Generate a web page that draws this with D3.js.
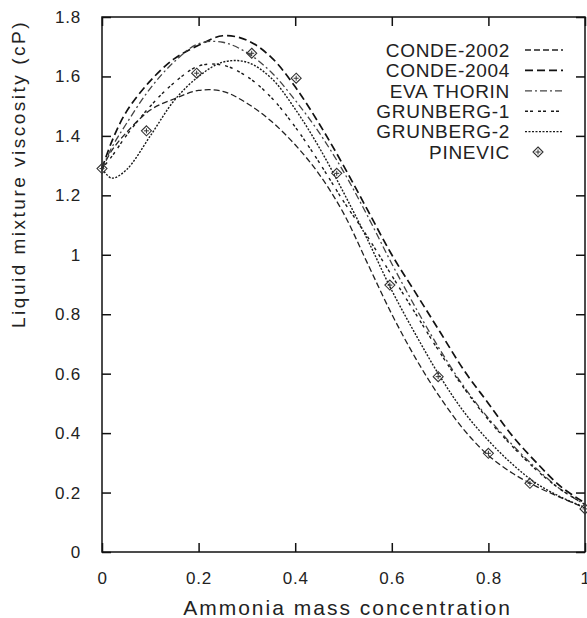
<!DOCTYPE html>
<html>
<head>
<meta charset="utf-8">
<script src="https://cdn.jsdelivr.net/npm/d3@7"></script>
<style>
  body { margin: 0; background: #fff; }
  text { font-family: 'Liberation Sans', Arial, sans-serif; fill: #222; }
</style>
</head>
<body>
<div id="chart"></div>
<script>
var conc = [0, 0.02, 0.05, 0.1, 0.15, 0.2, 0.25, 0.3, 0.35, 0.4, 0.45, 0.5, 0.55, 0.6, 0.65, 0.7, 0.75, 0.8, 0.85, 0.9, 0.95, 1]

var conde2002 = [1.29, 1.35, 1.41, 1.487, 1.525, 1.553, 1.55, 1.51, 1.45, 1.37, 1.27, 1.14, 0.97, 0.8, 0.65, 0.52, 0.41, 0.325, 0.265, 0.22, 0.183, 0.148]
var conde2004 = [1.29, 1.38, 1.48, 1.585, 1.66, 1.705, 1.737, 1.722, 1.665, 1.565, 1.44, 1.3, 1.15, 1.0, 0.87, 0.74, 0.61, 0.5, 0.39, 0.3, 0.22, 0.165]
var evaThorin = [1.29, 1.36, 1.44, 1.56, 1.65, 1.71, 1.715, 1.68, 1.615, 1.52, 1.41, 1.28, 1.13, 0.97, 0.82, 0.68, 0.555, 0.45, 0.36, 0.28, 0.21, 0.16]
var grunberg1 = [1.29, 1.33, 1.4, 1.5, 1.58, 1.635, 1.638, 1.6, 1.53, 1.43, 1.31, 1.18, 1.06, 0.93, 0.8, 0.67, 0.55, 0.445, 0.355, 0.275, 0.21, 0.16]
var grunberg2 = [1.29, 1.258, 1.285, 1.4, 1.52, 1.6, 1.648, 1.648, 1.595, 1.49, 1.36, 1.21, 1.05, 0.88, 0.73, 0.59, 0.47, 0.375, 0.295, 0.23, 0.185, 0.15]

var pinevicX = [0, 0.092, 0.196, 0.31, 0.402, 0.486, 0.596, 0.696, 0.8, 0.886, 1]
var pinevicY = [1.29, 1.417, 1.611, 1.678, 1.594, 1.274, 0.898, 0.59, 0.332, 0.231, 0.145]

var seriesNames = ['CONDE-2002', 'CONDE-2004', 'EVA THORIN', 'GRUNBERG-1', 'GRUNBERG-2']
var seriesValues = [conde2002, conde2004, evaThorin, grunberg1, grunberg2]
var xTicks = [0, 0.2, 0.4, 0.6, 0.8, 1]
var yTicks = [0, 0.2, 0.4, 0.6, 0.8, 1, 1.2, 1.4, 1.6, 1.8]

var w = 587
var h = 618
var plotL = 102, plotR = 585, plotT = 17, plotB = 552

var dashes = ['6,3', '8,4', '7,3,2,3', '3,2,3,5', '2,1.5']
var widths = [1.3, 1.7, 1.3, 1.4, 1.4]
var strokes = ['#222', '#111', '#444', '#1a1a1a', '#1a1a1a']

var svg = d3.select('#chart').append('svg')
  .attr('width', w)
  .attr('height', h)

var x = d3.scaleLinear().domain([0, 1]).range([plotL, plotR])
var y = d3.scaleLinear().domain([0, 1.8]).range([plotB, plotT])

// frame
svg.append('rect')
  .attr('x', plotL).attr('y', plotT)
  .attr('width', plotR - plotL).attr('height', plotB - plotT)
  .attr('fill', 'none').attr('stroke', '#111').attr('stroke-width', 1.5)

var tickLen = 9
var fmt = function (d) { return String(d) }

svg.append('g').attr('transform', 'translate(0,' + plotB + ')')
  .call(d3.axisBottom(x).tickValues(xTicks).tickSize(-tickLen).tickPadding(tickLen + 11).tickFormat(fmt))
svg.append('g').attr('transform', 'translate(0,' + plotT + ')')
  .call(d3.axisTop(x).tickValues(xTicks).tickSize(-tickLen).tickFormat(''))
svg.append('g').attr('transform', 'translate(' + plotL + ',0)')
  .call(d3.axisLeft(y).tickValues(yTicks).tickSize(-tickLen).tickPadding(tickLen + 12).tickFormat(fmt))
svg.append('g').attr('transform', 'translate(' + plotR + ',0)')
  .call(d3.axisRight(y).tickValues(yTicks).tickSize(-tickLen).tickFormat(''))

svg.selectAll('.domain').remove()
svg.selectAll('.tick line').attr('stroke', '#111').attr('stroke-width', 1.5)
svg.selectAll('.tick text')
  .style('font-family', "'Liberation Sans', Arial, sans-serif")
  .style('font-size', '17px')
  .style('letter-spacing', '0.8px')
  .attr('fill', '#2a2a2a')

// curves
var line = d3.line()
  .x(function (d) { return x(d[0]) })
  .y(function (d) { return y(d[1]) })
  .curve(d3.curveCatmullRom.alpha(0.5))

seriesValues.forEach(function (vals, idx) {
  svg.append('path')
    .datum(conc.map(function (c, i) { return [c, vals[i]] }))
    .attr('d', line)
    .attr('fill', 'none')
    .attr('stroke', strokes[idx])
    .attr('stroke-width', widths[idx])
    .attr('stroke-dasharray', dashes[idx])
})

function marker (g, cx, cy) {
  var r = 5
  g.append('path')
    .attr('d', ['M', cx, cy - r, 'L', cx + r, cy, 'L', cx, cy + r, 'L', cx - r, cy, 'Z'].join(' '))
    .attr('fill', 'none').attr('stroke', '#333').attr('stroke-width', 1.1)
  g.append('path')
    .attr('d', ['M', cx - 2.5, cy, 'L', cx + 2.5, cy, 'M', cx, cy - 2.5, 'L', cx, cy + 2.5].join(' '))
    .attr('stroke', '#333').attr('stroke-width', 1)
}

var pts = svg.append('g')
pinevicX.forEach(function (px, i) {
  marker(pts, x(px), y(pinevicY[i]))
})

// legend
var legend = svg.append('g')
var rowH = 20.4
seriesNames.concat(['PINEVIC']).forEach(function (name, idx) {
  var ly = 50 + rowH * idx
  legend.append('text').text(name)
    .attr('x', 510)
    .attr('y', ly)
    .attr('dy', '0.36em')
    .attr('text-anchor', 'end')
    .style('font-size', '19px')
    .style('letter-spacing', '0.7px')
  if (idx < seriesNames.length) {
    legend.append('line')
      .attr('x1', 525).attr('x2', 563)
      .attr('y1', ly).attr('y2', ly)
      .attr('stroke', strokes[idx])
      .attr('stroke-width', widths[idx])
      .attr('stroke-dasharray', dashes[idx])
  } else {
    marker(legend, 538, ly)
  }
})

// axis titles
svg.append('text').text('Ammonia mass concentration')
  .attr('x', (plotL + plotR) / 2 + 4)
  .attr('y', 615)
  .attr('text-anchor', 'middle')
  .style('font-size', '21px')
  .style('letter-spacing', '2px')

svg.append('text').text('Liquid mixture viscosity (cP)')
  .attr('transform', 'translate(25,174) rotate(-90)')
  .attr('text-anchor', 'middle')
  .style('font-size', '19px')
  .style('letter-spacing', '2.5px')
</script>
</body>
</html>
